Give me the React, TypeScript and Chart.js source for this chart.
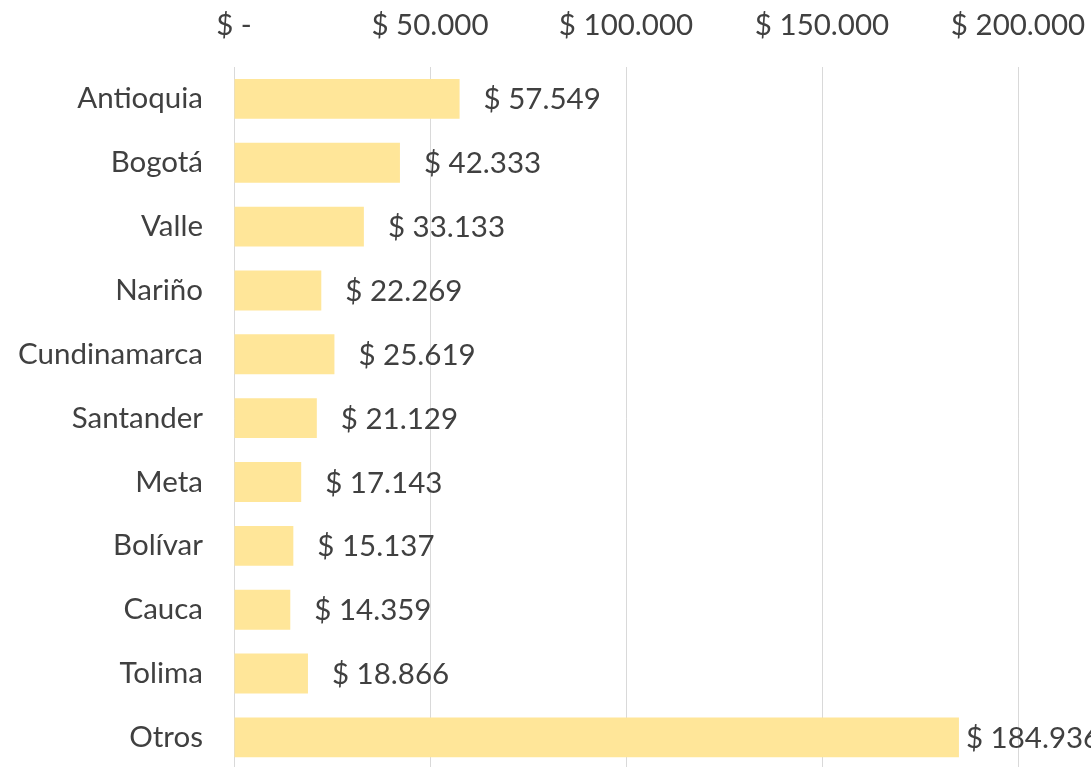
import React, { useEffect, useRef } from "react";
import { Chart, registerables } from "chart.js";

Chart.register(...registerables);

const categories = ["Antioquia", "Bogotá", "Valle", "Nariño", "Cundinamarca", "Santander", "Meta", "Bolívar", "Cauca", "Tolima", "Otros"];
const values = [57549, 42333, 33133, 22269, 25619, 21129, 17143, 15137, 14359, 18866, 184936];
const axisMax = 200000;
const axisStep = 50000;

const FONT = "Lato, 'Noto Sans', sans-serif";
const FONT_SIZE = 29.5;
const TEXT = "#404040";

const fmt = (v: number) => (v === 0 ? "$ -" : "$ " + Math.round(v).toLocaleString("de-DE"));

const CANVAS_W = 1200;
const Y_TICK_PAD = 31;
const CANVAS_H = Math.round(769 + Y_TICK_PAD + (FONT_SIZE * 1.2) / 2);

const labelPlugin = {
  id: "barLabels",
  afterDatasetsDraw(chart: any) {
    const { ctx } = chart;
    const meta = chart.getDatasetMeta(0);
    ctx.save();
    ctx.font = `${FONT_SIZE}px ${FONT}`;
    ctx.fillStyle = TEXT;
    ctx.textAlign = "left";
    ctx.textBaseline = "middle";
    meta.data.forEach((bar: any, i: number) => {
      const last = i === meta.data.length - 1;
      const off = last ? 7 : 24;
      ctx.fillText(fmt(values[i]), bar.x + off, bar.y + 1);
    });
    ctx.restore();
  },
};

export default function App() {
  const ref = useRef<HTMLCanvasElement>(null);
  useEffect(() => {
    if (!ref.current) return;
    const chart = new Chart(ref.current, {
      type: "bar",
      data: {
        labels: categories,
        datasets: [
          {
            data: values,
            backgroundColor: "#FFE699",
            borderWidth: 0,
            categoryPercentage: 1,
            barPercentage: 0.625,
          },
        ],
      },
      options: {
        indexAxis: "y",
        animation: false,
        responsive: false,
        maintainAspectRatio: false,
        layout: { padding: { left: 0, right: CANVAS_W - 1018, top: 0, bottom: 0 } },
        plugins: { legend: { display: false }, tooltip: { enabled: false } },
        scales: {
          x: {
            position: "top",
            min: 0,
            max: axisMax,
            ticks: {
              stepSize: axisStep,
              padding: 67 - 25 - (FONT_SIZE * 1.2) / 2,
              color: TEXT,
              font: { family: FONT, size: FONT_SIZE },
              maxRotation: 0,
              callback: (v: any) => fmt(Number(v)),
            },
            grid: { color: "#D9D9D9", lineWidth: 1, drawTicks: false },
            border: { display: false },
            afterFit: (s: any) => {
              s.height = 67;
            },
          },
          y: {
            ticks: {
              padding: Y_TICK_PAD,
              color: TEXT,
              font: { family: FONT, size: FONT_SIZE },
            },
            grid: { display: false, drawTicks: false },
            border: { display: false },
            afterFit: (s: any) => {
              s.width = 234;
            },
          },
        },
      },
      plugins: [labelPlugin],
    });
    return () => chart.destroy();
  }, []);
  return (
    <div style={{ position: "fixed", left: 0, top: 0, width: 1091, height: 767, overflow: "hidden", background: "#fff" }}>
      <canvas ref={ref} width={CANVAS_W} height={CANVAS_H} style={{ width: CANVAS_W, height: CANVAS_H, display: "block" }} />
    </div>
  );
}
